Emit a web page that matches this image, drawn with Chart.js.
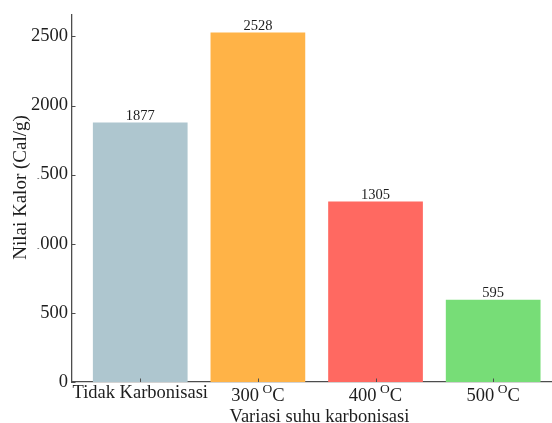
<!DOCTYPE html>
<html lang="id">
<head>
    <meta charset="UTF-8">
    <title>Nilai Kalor</title>
    <script src="https://cdn.jsdelivr.net/npm/chart.js"></script>
    <style>
        body {
            margin: 0;
            background-color: #fff;
        }
    </style>
</head>
<body>
    <canvas id="kalorChart" width="552" height="423"></canvas>

    <script>
        const categories = ['Tidak Karbonisasi', '300 ᴼC', '400 ᴼC', '500 ᴼC'];
        const nilaiKalor = [1877, 2528, 1305, 595];
        const barColors = ['#AEC6CF', '#FFB347', '#FF6961', '#77DD77'];
        const yTicks = [0, 500, 1000, 1500, 2000, 2500];
        const yTitle = 'Nilai Kalor (Cal/g)';
        const xTitle = 'Variasi suhu karbonisasi';

        const serif = '"Liberation Serif", "Times New Roman", serif';
        const axisColor = '#4d4d4d';
        const textColor = '#1e1e1e';

        // ticks pointing inward, value labels, x labels with raised O, axis titles
        const extras = {
            id: 'extras',
            afterDraw(chart) {
                const ctx = chart.ctx;
                const x = chart.scales.x;
                const y = chart.scales.y;
                const area = chart.chartArea;
                const big = '18.5px ' + serif;
                const small = '13.5px ' + serif;
                ctx.save();

                ctx.strokeStyle = axisColor;
                ctx.lineWidth = 1;
                yTicks.forEach(v => {
                    const py = Math.round(y.getPixelForValue(v)) + 0.5;
                    ctx.beginPath();
                    ctx.moveTo(area.left, py);
                    ctx.lineTo(area.left + 3.5, py);
                    ctx.stroke();
                });
                categories.forEach((c, i) => {
                    const px = Math.round(x.getPixelForValue(i)) + 0.5;
                    ctx.beginPath();
                    ctx.moveTo(px, area.bottom);
                    ctx.lineTo(px, area.bottom - 3.5);
                    ctx.stroke();
                });

                ctx.fillStyle = textColor;
                ctx.textBaseline = 'alphabetic';
                ctx.textAlign = 'center';
                ctx.font = '14.5px ' + serif;
                chart.getDatasetMeta(0).data.forEach((bar, i) => {
                    ctx.fillText(String(nilaiKalor[i]), bar.x, bar.y - 3);
                });

                categories.forEach((c, i) => {
                    const px = x.getPixelForValue(i);
                    const parts = c.split('ᴼ');
                    if (parts.length === 1) {
                        ctx.font = big;
                        ctx.textAlign = 'center';
                        ctx.fillText(c, px, 397.5);
                        return;
                    }
                    const head = parts[0].trim();
                    const tail = parts[1];
                    const gap = 3.5;
                    ctx.font = big;
                    const w1 = ctx.measureText(head).width;
                    const w3 = ctx.measureText(tail).width;
                    ctx.font = small;
                    const w2 = ctx.measureText('O').width;
                    let sx = px - (w1 + gap + w2 + w3) / 2;
                    ctx.textAlign = 'left';
                    ctx.font = big;
                    ctx.fillText(head, sx, 400.5);
                    sx += w1 + gap;
                    ctx.font = small;
                    ctx.fillText('O', sx, 392.5);
                    sx += w2;
                    ctx.font = big;
                    ctx.fillText(tail, sx, 400.5);
                });

                ctx.font = big;
                ctx.textAlign = 'center';
                ctx.fillText(xTitle, 319.5, 422);

                // the title box hides the leading digit of two tick labels, as in the source
                ctx.fillStyle = '#fff';
                ctx.fillRect(0, 114, 37.5, 150);
                ctx.fillStyle = textColor;
                ctx.translate(26, 187.5);
                ctx.rotate(-Math.PI / 2);
                ctx.font = '19px ' + serif;
                ctx.fillText(yTitle, 0, 0);
                ctx.restore();
            }
        };

        new Chart(document.getElementById('kalorChart'), {
            type: 'bar',
            data: {
                datasets: [{
                    data: nilaiKalor.map((v, i) => ({ x: i, y: v })),
                    backgroundColor: barColors,
                    barPercentage: 0.805,
                    categoryPercentage: 1
                }]
            },
            options: {
                responsive: false,
                animation: false,
                devicePixelRatio: 1,
                layout: { padding: { top: 15, left: 0, right: 0, bottom: 0 } },
                plugins: {
                    legend: { display: false },
                    tooltip: { enabled: false }
                },
                scales: {
                    x: {
                        type: 'linear',
                        offset: false,
                        min: -0.58,
                        max: 3.5,
                        grid: { display: false, drawTicks: false },
                        border: { display: true, color: axisColor, width: 1.3 },
                        ticks: { display: false },
                        afterBuildTicks(s) { s.ticks = categories.map((c, i) => ({ value: i })); },
                        afterFit(s) { s.height = 41; }
                    },
                    y: {
                        min: 0,
                        max: 2654,
                        grid: { display: false, drawTicks: false },
                        border: { display: true, color: axisColor, width: 1.3 },
                        ticks: {
                            font: { family: serif, size: 18.5 },
                            color: textColor,
                            padding: 4,
                            callback: v => String(v)
                        },
                        afterBuildTicks(s) { s.ticks = yTicks.map(v => ({ value: v })); },
                        afterFit(s) { s.width = 72; }
                    }
                }
            },
            plugins: [extras]
        });
    </script>
</body>
</html>
